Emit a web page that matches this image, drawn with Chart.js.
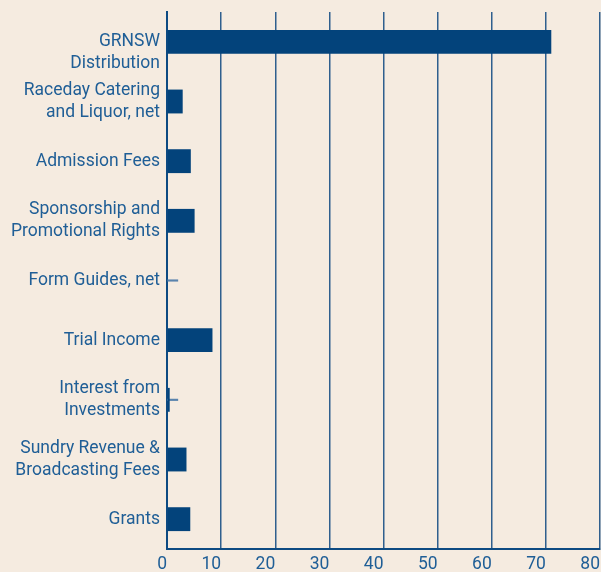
<!DOCTYPE html>
<html>
<head>
<meta charset="utf-8">
<script src="https://cdn.jsdelivr.net/npm/chart.js@4/dist/chart.umd.min.js"></script>
<style>
  html, body { margin: 0; padding: 0; background: #f5ebe0; overflow: hidden; }
  canvas { display: block; }
</style>
</head>
<body>
<canvas id="c" width="601" height="572" style="width:601px;height:572px"></canvas>
<script>
// Categories (multi-line labels)
const categories = [
  ["", "GRNSW", "Distribution"],
  ["Raceday Catering", "and Liquor, net"],
  "Admission Fees",
  ["Sponsorship and", "Promotional Rights"],
  "Form Guides, net",
  "Trial Income",
  ["Interest from", "Investments"],
  ["Sundry Revenue &", "Broadcasting Fees"],
  "Grants"
];
// Revenue values
const revenue = [71, 2.9, 4.4, 5.1, 0, 8.4, 0.5, 3.6, 4.3];
// Small nil/low-value marker dashes shown for two categories
const nilMarker = [null, null, null, null, 2, null, 2, null, null];
// X axis ticks
const xTicks = [0, 10, 20, 30, 40, 50, 60, 70, 80];

const textColor = '#1f5e96';
const barColor = '#03437b';
const gridColor = '#2f5f8e';

new Chart(document.getElementById('c'), {
  type: 'bar',
  data: {
    labels: categories,
    datasets: [
      {
        label: 'Revenue',
        data: revenue,
        backgroundColor: barColor,
        borderWidth: 0,
        categoryPercentage: 1,
        barPercentage: 0.4,
        grouped: false,
        order: 1
      },
      {
        label: 'Marker',
        data: nilMarker,
        backgroundColor: '#5a83ad',
        borderWidth: 0,
        barThickness: 1.5,
        grouped: false,
        order: 2
      }
    ]
  },
  options: {
    indexAxis: 'y',
    responsive: false,
    animation: false,
    layout: { padding: { top: 12, right: 1, left: 0, bottom: 0 } },
    plugins: { legend: { display: false }, tooltip: { enabled: false } },
    scales: {
      x: {
        type: 'linear',
        min: 0,
        max: 80,
        afterBuildTicks(scale) { scale.ticks = xTicks.map(v => ({ value: v })); },
        afterFit(scale) { scale.height = 23; scale.paddingLeft = 0; scale.paddingRight = 0; },
        grid: { color: gridColor, lineWidth: 1.5, drawTicks: false },
        border: { color: '#0d4a82', width: 2 },
        ticks: { color: textColor, font: { family: 'Roboto', size: 17.5 }, padding: 5, align: 'end', maxRotation: 0 }
      },
      y: {
        afterFit(scale) { scale.width = 167; scale.paddingTop = 0; scale.paddingBottom = 0; },
        grid: { display: false, drawTicks: false },
        border: { color: '#0d4a82', width: 2 },
        ticks: { color: textColor, font: { family: 'Roboto', size: 17.5, lineHeight: 1.26 }, padding: 7, autoSkip: false }
      }
    }
  }
});
</script>
</body>
</html>
